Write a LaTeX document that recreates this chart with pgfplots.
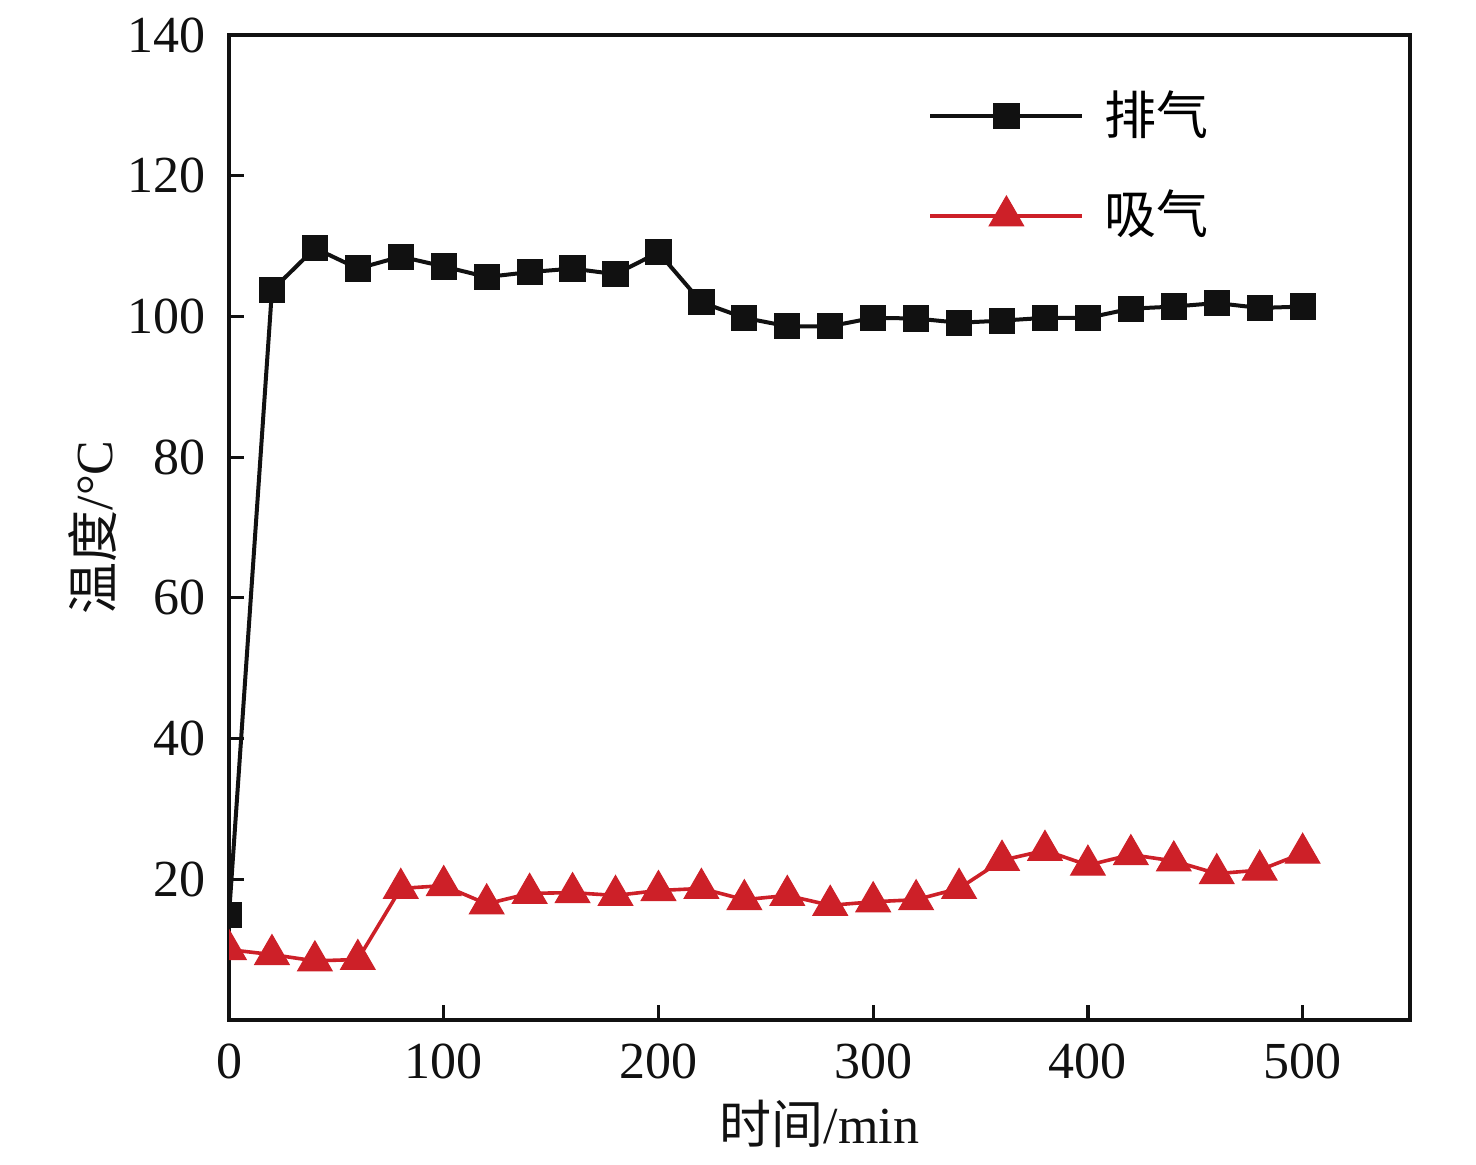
\documentclass[border=0pt]{standalone}
\usepackage{pgfplots}
\pgfplotsset{compat=1.18}
\usepackage{fontspec}
\setmainfont{Liberation Serif}
\newfontfamily\cjk{Noto Sans CJK SC}
\definecolor{myred}{RGB}{205,32,40}
\definecolor{myblack}{RGB}{17,17,17}
\begin{document}
\fontsize{26}{30}\selectfont
\begin{tikzpicture}
\useasboundingbox (0,0) rectangle (738pt,582.5pt);
\begin{axis}[
  at={(114.5pt,72.5pt)}, anchor=south west,
  scale only axis, width=590.5pt, height=492.5pt,
  xmin=0, xmax=550, ymin=0, ymax=140,
  clip marker paths=true,
  xtick={0,100,200,300,400,500},
  ytick={20,40,60,80,100,120,140},
  tick pos=left, tick align=inside,
  major tick length=7.5pt,
  axis line style={line width=1.6pt, color=myblack},
  every tick/.style={line width=1.6pt, color=myblack},
  /pgf/number format/assume math mode=true,
  ticklabel style={font=\fontsize{26}{30}\selectfont, color=myblack},
  xticklabel style={yshift=-3pt},
  yticklabel style={xshift=-3pt},
  xlabel={{\cjk 时间}/min},
  ylabel={{\cjk 温度}/°C},
  label style={font=\fontsize{26}{30}\selectfont, color=myblack},
  xlabel style={yshift=7pt},
  ylabel style={yshift=-12pt},
  legend style={draw=none, fill=none, at={(0.5868,0.948)}, anchor=north west,
    font=\fontsize{26}{30}\selectfont\cjk, row sep=24pt,
    nodes={inner sep=0pt}},
  legend cell align=left,
  /tikz/every odd column/.append style={column sep=10pt},
  legend image code/.code={\draw[mark repeat=2,mark phase=2] plot coordinates {(0pt,0pt) (38pt,0pt) (76pt,0pt)};},
]
\addplot[color=myblack, line width=2pt, mark=square*, mark size=6.3pt, mark options={fill=myblack, line width=0.5pt}]
coordinates {
(0,14.9) (20,103.7) (40,109.7) (60,106.8) (80,108.5) (100,107.1) (120,105.6) (140,106.3) (160,106.8) (180,106.0)
(200,109.1) (220,102.0) (240,99.8) (260,98.6) (280,98.6) (300,99.8) (320,99.7) (340,99.1) (360,99.4) (380,99.8)
(400,99.8) (420,101.1) (440,101.4) (460,101.9) (480,101.2) (500,101.4)
};
\addlegendentry{排气}
\addplot[color=myred, line width=1.8pt, mark=triangle*, mark size=10pt, mark options={fill=myred, line width=0.5pt}]
coordinates {
(0,10.0) (20,9.3) (40,8.4) (60,8.6) (80,18.7) (100,19.1) (120,16.5) (140,18.0) (160,18.1) (180,17.7)
(200,18.4) (220,18.7) (240,17.1) (260,17.7) (280,16.3) (300,16.8) (320,17.1) (340,18.7) (360,22.7) (380,24.1)
(400,22.0) (420,23.5) (440,22.6) (460,20.8) (480,21.3) (500,23.7)
};
\addlegendentry{吸气}
\end{axis}
\end{tikzpicture}
\end{document}
